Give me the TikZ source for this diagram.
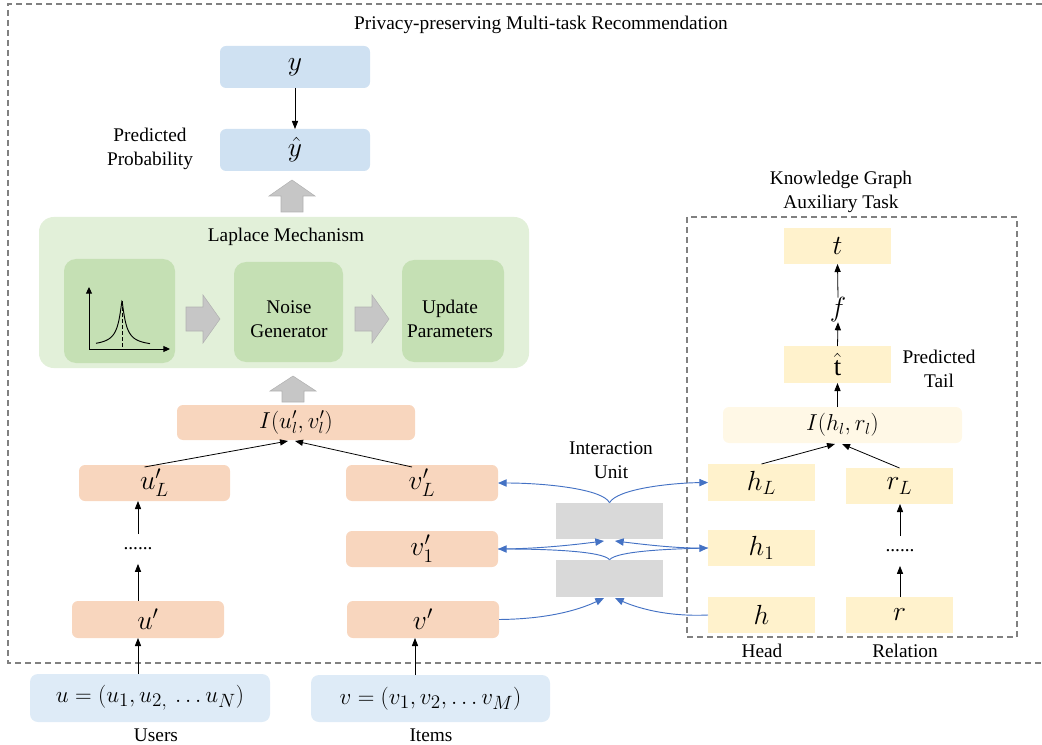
\documentclass[tikz,border=0pt]{standalone}
\usepackage{fontspec}
\setmainfont{Liberation Serif}
\newfontfamily\lserif{Liberation Serif}
\usetikzlibrary{fit,calc,arrows.meta}
\definecolor{peach}{RGB}{248,214,190}
\definecolor{bluebox}{RGB}{207,225,242}
\definecolor{lblue}{RGB}{222,235,247}
\definecolor{lgreen}{RGB}{226,240,217}
\definecolor{mgreen}{RGB}{197,224,180}
\definecolor{cream}{RGB}{255,242,204}
\definecolor{lcream}{RGB}{255,248,230}
\definecolor{grect}{RGB}{217,217,217}
\definecolor{barrow}{RGB}{68,114,196}
\definecolor{dgray}{RGB}{128,128,128}
\definecolor{garrow}{RGB}{198,198,198}
\definecolor{garrowd}{RGB}{178,178,178}
\newcommand\mfont{\fontsize{20}{24}\selectfont}
\newcommand\bigmfont{\fontsize{19}{23}\selectfont}
\newcommand\smfont{\fontsize{16.5}{19}\selectfont}
\newcommand\txfont{\lserif\fontsize{14.5}{18}\selectfont}
\tikzset{
  rect/.style n args={4}{minimum width={(#3-#1)*0.75pt}, minimum height={(#4-#2)*0.75pt},
     at={({(#1+#3)/2},{(#2+#4)/2})}},
  bx/.style={inner sep=0pt, outer sep=0pt, font=\mfont},
  pbox/.style={bx, fill=peach, rounded corners=4.5pt},
  bbox/.style={bx, fill=bluebox, rounded corners=4.5pt},
  ubox/.style={bx, fill=lblue, rounded corners=6pt, font=\bigmfont},
  cbox/.style={bx, fill=cream},
  gbox/.style={inner sep=0pt, fill=mgreen, rounded corners=9pt},
  lbl/.style={font=\txfont, align=center, inner sep=0pt},
  arr/.style={-{Triangle[length=6pt,width=4.6pt]}, line width=0.6pt, black},
  barr/.style={-{Triangle[length=6.5pt,width=5.5pt]}, line width=0.7pt, barrow},
  grayarrow/.style={fill=garrow, draw=garrowd, line width=0.4pt},
  dbox/.style={dgray, line width=0.9pt, dash pattern=on 4.5pt off 3pt},
  dots/.style={font=\txfont, inner sep=0pt, minimum height=22pt}
}
\begin{document}
\begin{tikzpicture}[x=0.75pt,y=-0.75pt]
\useasboundingbox (0,0) rectangle (1042,745);

% outer dashed frame (open on the right)
\draw[dbox] (1042,4) -- (8,4) -- (8,663) -- (1042,663);
\node[lbl] (title) at (541,25) {Privacy-preserving\ Multi-task Recommendation};

% top: y and y-hat
\node[bbox, rect={220}{46}{370}{88}] (y) {$y$};
\node[bbox, rect={220}{129}{370}{171}] (yh) {$\hat{y}$};
\draw[arr] (y.south) -- (yh.north);
\node[lbl] (pp) at (150,149) {Predicted\\Probability};

% gray up arrow 1
\path[grayarrow] (281,212) -- (281,196) -- (269,196) -- (292,180) -- (315,196) -- (303,196) -- (303,212) -- cycle;

% Laplace mechanism
\node[fill=lgreen, rounded corners=11pt, inner sep=0pt, rect={39}{217}{529}{368}] (lap) {};
\node[lbl] (laptitle) at (286,237) {Laplace Mechanism};
\node[gbox, rect={64}{259}{175}{363}] (lap1) {};
\node[gbox, rect={234}{262}{343}{362}] (noise) {};
\node[gbox, rect={402}{260}{504}{362}] (upd) {};
\node[lbl] (noiset) at (289,319) {Noise\\Generator};
\node[lbl] (updt) at (450,319) {Update\\Parameters};
% laplace plot
\draw[-{Triangle[length=5pt,width=4.5pt]}, line width=0.7pt] (89,349) -- (89,287);
\draw[-{Triangle[length=5pt,width=4.5pt]}, line width=0.7pt] (89,349) -- (170,349);
\draw[line width=0.7pt, dash pattern=on 3pt off 1.5pt] (122,301) -- (122,349);
\draw[line width=0.7pt, samples=120, domain=96:150]
  plot (\x, {347 - 46/(1 + ((abs(\x-122)+0.01)/4)^1.3)});
% gray right arrows
\path[grayarrow] (186,307) -- (203,307) -- (203,295) -- (220,319) -- (203,343) -- (203,331) -- (186,331) -- cycle;
\path[grayarrow] (355,307) -- (372,307) -- (372,295) -- (389,319) -- (372,343) -- (372,331) -- (355,331) -- cycle;

% gray up arrow 2
\path[grayarrow] (282,402) -- (282,391) -- (270,391) -- (293,376) -- (316,391) -- (304,391) -- (304,402) -- cycle;

% user / item towers
\node[pbox, rect={177}{405}{415}{440}, font=\smfont] (I) {$I(u'_l,v'_l)$};
\node[pbox, rect={79}{465}{230}{501}] (uL) {$u'_L$};
\node[pbox, rect={346}{465}{498}{501}] (vL) {$v'_L$};
\node[pbox, rect={346}{531}{498}{567}] (v1) {$v'_1$};
\node[pbox, rect={72}{601}{224}{638}] (up) {$u'$};
\node[pbox, rect={347}{601}{499}{638}] (vp) {$v'$};
\node[dots] (udots) at (138,549) {......};
\node[ubox, rect={30}{674}{270}{722}] (u) {$u=(u_1,u_{2,}\,\ldots u_N)$};
\node[ubox, rect={311}{675}{550}{722}] (v) {$v=(v_1,v_2,\ldots v_M)$};
\node[lbl] (users) at (156,735) {Users};
\node[lbl] (items) at (431,735) {Items};

\coordinate (Ia) at (288,441);
\coordinate (Ib) at (295,441);
\draw[arr] ($(uL.north)+(-10,2)$) -- (Ia);
\draw[arr] ($(vL.north)+(-10,2)$) -- (Ib);
\draw[arr] (udots.north) -- (uL.south -| udots);
\draw[arr] (up.north -| udots) -- (udots.south);
\draw[arr] (u.north -| udots) -- (up.south -| udots);
\draw[arr] ($(v.north)+(-15.5,0)$) -- ($(vp.south)+(-8,0)$);

% interaction unit
\node[lbl] (iu) at (611,460) {Interaction\\Unit};
\node[fill=grect, inner sep=0pt, rect={556}{503}{663}{539}] (g1) {};
\node[fill=grect, inner sep=0pt, rect={556}{560}{663}{597}] (g2) {};
\coordinate (g1a) at (604,541);
\coordinate (g1b) at (615,541);
\coordinate (g2a) at (604,598);
\coordinate (g2b) at (615,598);

% knowledge graph task
\node[draw, dbox, inner sep=0pt, rect={687}{217}{1017}{637}] (kg) {};
\node[lbl] (kgt) at (841,192) {Knowledge Graph\\Auxiliary Task};
\node[cbox, rect={784}{228}{891}{264}] (t) {$t$};
\node[bx] (f) at (838,310) {$f$};
\node[cbox, rect={784}{346}{891}{383}] (th) {$\hat{\mathrm{t}}$};
\node[lbl] (pt) at (939,369) {Predicted\\Tail};
\node[bx, fill=lcream, rounded corners=4.5pt, rect={723}{407}{962}{443}, font=\smfont] (Ihr) {$I(h_l,r_l)$};
\node[cbox, rect={708}{464}{815}{501}] (hL) {$h_L$};
\node[cbox, rect={846}{468}{953}{504}] (rL) {$r_L$};
\node[cbox, rect={708}{530}{815}{566}] (h1) {$h_1$};
\node[cbox, rect={708}{597}{815}{633}] (h) {$h$};
\node[cbox, rect={846}{597}{953}{633}] (r) {$r$};
\node[dots] (rdots) at (900,551) {......};
\node[lbl] (head) at (762,651) {Head};
\node[lbl] (rel) at (905,651) {Relation};

\draw[arr] (Ihr.north -| th.south) -- (th.south);
\draw[arr] (th.north) -- (f.south);
\draw[arr] (f.north) -- (t.south);
\coordinate (Ha) at (835,444);
\coordinate (Hb) at (842,444);
\draw[arr] (hL.north) -- (Ha);
\draw[arr] (rL.north) -- (Hb);
\draw[arr] (r.north -| rdots) -- (rdots.south);
\draw[arr] (rdots.north) -- (rL.south -| rdots);

% blue connectors
\draw[barr] (g1.north) .. controls (603,489) and (545,483) .. (vL.east);
\draw[barr] (g1.north) .. controls (617,489) and (670,483) .. (hL.west);
\draw[barr] (g2.north) .. controls (603,551) and (545,549) .. (v1.east);
\draw[barr] (g2.north) .. controls (617,551) and (670,549) .. (h1.west);
\draw[barr] (v1.east) .. controls (540,549) and (580,544) .. (g1a);
\draw[barr] (h1.west) .. controls (680,549) and (640,544) .. (g1b);
\draw[barr] (vp.east) .. controls (555,619) and (585,607) .. (g2a);
\draw[barr] (h.west) .. controls (665,617) and (635,607) .. (g2b);
\end{tikzpicture}
\end{document}
